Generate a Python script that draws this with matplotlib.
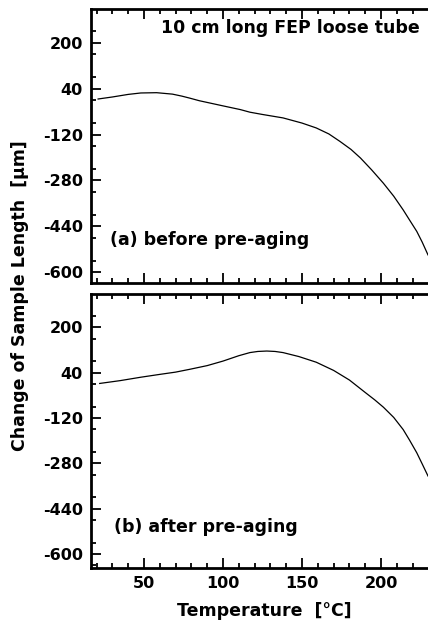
import numpy as np
import matplotlib
matplotlib.use('Agg')
from matplotlib import pyplot as plt
from matplotlib.ticker import MultipleLocator

plt.rcParams['font.family'] = ['DejaVu Sans']
plt.rcParams['font.weight'] = 'bold'
plt.rcParams['axes.unicode_minus'] = False

# readings (temperature in degC, change in um)
temp_a = [21, 30, 40, 48, 58, 68, 74, 79, 85, 90, 100, 111, 117, 125, 138, 150, 159, 167, 174,
          181, 187, 194, 201.5, 208, 214, 218, 222.6, 226, 229.7]
dl_a = [4, 11, 20, 25, 26, 21, 14, 7, -2, -8, -20, -33, -42, -50, -62, -80, -97, -118, -144,
        -172, -202, -243, -290, -335, -383, -418, -458, -495, -540]

temp_b = [22, 35, 48, 60, 70, 79, 90, 100, 110, 117, 122, 127.7, 133, 138, 148, 159, 170, 180,
          190, 196, 201.5, 208, 214, 218, 222.6, 226, 229.7]
dl_b = [2, 12, 24, 34, 42, 52, 65, 81, 100, 111, 115, 116.5, 115, 111, 97, 77, 48, 14,
        -30, -56, -82, -118, -161, -198, -243, -282, -325]

fig = plt.figure(figsize=(4.28, 6.27), dpi=100)
ax1 = fig.add_axes([91/428, 1-283/627, 1-91/428, 274/627])
ax2 = fig.add_axes([91/428, 1-568/627, 1-91/428, 274/627])

for ax, t, d, yb in [(ax1, temp_a, dl_a, -638), (ax2, temp_b, dl_b, -650)]:
    ax.plot(t, d, color='black', lw=0.9)
    ax.set_xlim(16.5, 229.7)
    ax.set_ylim(yb, 318)
    ax.set_yticks([200, 40, -120, -280, -440, -600])
    ax.yaxis.set_minor_locator(MultipleLocator(80))
    ax.set_xticks([50, 100, 150, 200])
    ax.xaxis.set_minor_locator(MultipleLocator(10))
    ax.tick_params(which='both', direction='in', top=True, right=False, width=1.3)
    ax.tick_params(which='major', length=7, labelsize=11.5, pad=6)
    ax.tick_params(which='minor', length=3.5)
    ax.spines['right'].set_visible(False)
    for s in ['left', 'bottom', 'top']:
        ax.spines[s].set_linewidth(2)
    for lb in ax.get_xticklabels() + ax.get_yticklabels():
        lb.set_fontweight('bold')

ax1.tick_params(labelbottom=False)

ax1.text(161/428, 1-28/627, '10 cm long FEP loose tube', transform=fig.transFigure,
         fontsize=12.5, fontweight='bold', va='center', ha='left')
ax1.text(110/428, 1-240/627, '(a) before pre-aging', transform=fig.transFigure,
         fontsize=12.5, fontweight='bold', va='center', ha='left')
ax2.text(114/428, 1-527/627, '(b) after pre-aging', transform=fig.transFigure,
         fontsize=12.5, fontweight='bold', va='center', ha='left')

fig.text(20/428, 1-296/627, 'Change of Sample Length  [\u03bcm]', rotation=90,
         fontsize=12.5, fontweight='bold', va='center', ha='center')
fig.text(264/428, 1-611/627, 'Temperature  [\u00b0C]',
         fontsize=12.5, fontweight='bold', va='center', ha='center')

plt.savefig('out.png', dpi=100)
